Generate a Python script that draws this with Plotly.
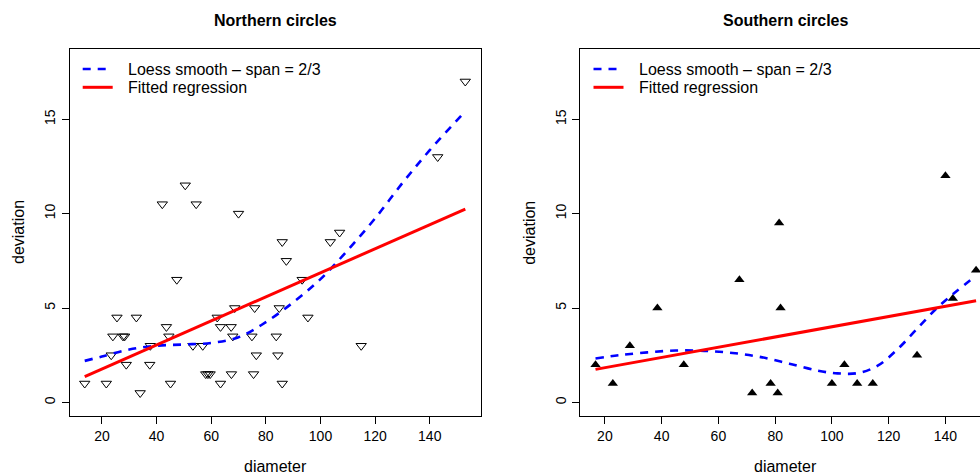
import plotly.graph_objects as go

# ---- data -------------------------------------------------------------
north_diameter = [13.7, 21.6, 23.4, 24.0, 25.5, 27.7, 28.3, 28.9, 32.6, 34.0,
                  37.5, 37.7, 42.1, 43.6, 44.5, 45.1, 47.4, 50.5, 53.3, 54.5,
                  56.9, 58.0, 58.8, 59.6, 62.2, 63.4, 63.4, 67.3, 67.9, 67.4,
                  68.6, 70.0, 74.9, 75.9, 76.5, 75.5, 83.8, 84.4, 84.9, 86.0,
                  86.0, 87.5, 93.3, 95.4, 103.6, 107.0, 114.9, 142.9, 153.0]
north_deviation = [1, 1, 2.5, 3.5, 4.5, 3.5, 3.5, 2, 4.5, 0.5,
                   2, 3, 10.5, 4, 3.5, 1, 6.5, 11.5, 3, 10.5,
                   3, 1.5, 1.5, 1.5, 4.5, 4, 1, 4, 3.5, 1.5,
                   5, 10, 3.5, 5, 2.5, 1.5, 3.5, 2.5, 5, 1,
                   8.5, 7.5, 6.5, 4.5, 8.5, 9, 3, 13, 17]

south_diameter = [16.7, 22.8, 28.8, 38.5, 47.8, 67.4, 71.9, 78.4, 80.9, 81.4,
                  81.9, 100.0, 104.4, 108.9, 114.4, 130.0, 140.0, 142.6, 150.8]
south_deviation = [2, 1, 3, 5, 2, 6.5, 0.5, 1, 0.5, 9.5,
                   5, 1, 2, 1, 1, 2.5, 12, 5.5, 7]

# loess smooth (span = 2/3), sampled along diameter
north_loess_x = [13.7, 20, 30, 40, 50, 60, 70, 80, 90, 100, 110, 120, 130, 140, 153]
north_loess_y = [2.2, 2.43, 2.8, 3.0, 3.07, 3.15, 3.45, 4.25, 5.3, 6.53, 8.07,
                 9.75, 11.62, 13.36, 15.42]
south_loess_x = [16.7, 25, 35, 45, 55, 65, 75, 85, 95, 102, 109, 116, 123, 130,
                 137, 144, 150.8]
south_loess_y = [2.33, 2.5, 2.65, 2.75, 2.73, 2.62, 2.4, 2.05, 1.68, 1.54, 1.55,
                 1.93, 2.8, 3.9, 5.0, 5.9, 6.72]

# fitted regression lines (end points)
north_fit_x = [13.7, 153.0]
north_fit_y = [1.37, 10.24]
south_fit_x = [16.7, 150.8]
south_fit_y = [1.75, 5.38]

x_ticks = [20, 40, 60, 80, 100, 120, 140]
y_ticks = [0, 5, 10, 15]
y_limits = [0, 18]

panel_titles = ["Northern circles", "Southern circles"]
legend_labels = ["Loess smooth \u2013 span = 2/3", "Fitted regression"]
x_label = "diameter"
y_label = "deviation"

# ---- geometry (pixels) ------------------------------------------------
W, H = 980, 474
FONT = "Liberation Sans, Arial, sans-serif"
left_px = (69.5, 480.5)
panel_w = left_px[1] - left_px[0]
right_px0 = 580.3
top_px, bot_px = 49, 416


def px2x(p):
    return p / W


def px2y(p):
    return 1 - p / H


def r_limits(vals):
    lo, hi = min(vals), max(vals)
    pad = 0.04 * (hi - lo)
    return [lo - pad, hi + pad]


north_xr = r_limits(north_diameter)
south_full = r_limits(south_diameter)
# the right panel runs past the page edge; show the part up to the edge
vis_frac = (W - right_px0) / panel_w
south_xr = [south_full[0], south_full[0] + (south_full[1] - south_full[0]) * vis_frac]
yr = r_limits(y_limits)

BLUE = "#0000ff"
RED = "#ff0000"
DASH = "8px,7px"

fig = go.Figure()

# Northern panel
fig.add_trace(go.Scatter(x=north_diameter, y=north_deviation, mode="markers",
                         marker=dict(symbol="triangle-down-open", size=9,
                                     color="black", line=dict(width=1, color="black")),
                         xaxis="x", yaxis="y", showlegend=False))
fig.add_trace(go.Scatter(x=north_loess_x, y=north_loess_y, mode="lines",
                         line=dict(color=BLUE, width=2.6, dash=DASH, shape="spline"),
                         xaxis="x", yaxis="y", showlegend=False))
fig.add_trace(go.Scatter(x=north_fit_x, y=north_fit_y, mode="lines",
                         line=dict(color=RED, width=3),
                         xaxis="x", yaxis="y", showlegend=False))

# Southern panel
fig.add_trace(go.Scatter(x=south_diameter, y=south_deviation, mode="markers",
                         marker=dict(symbol="triangle-up", size=9, color="black",
                                     line=dict(width=0)),
                         xaxis="x2", yaxis="y2", showlegend=False))
fig.add_trace(go.Scatter(x=south_loess_x, y=south_loess_y, mode="lines",
                         line=dict(color=BLUE, width=2.6, dash=DASH, shape="spline"),
                         xaxis="x2", yaxis="y2", showlegend=False))
fig.add_trace(go.Scatter(x=south_fit_x, y=south_fit_y, mode="lines",
                         line=dict(color=RED, width=3),
                         xaxis="x2", yaxis="y2", showlegend=False))

axis_common = dict(showgrid=False, zeroline=False, showline=True, linecolor="black",
                   linewidth=1, ticks="outside", ticklen=7, tickcolor="black",
                   tickwidth=1, tickfont=dict(family=FONT, size=14, color="black"))

ydom = [px2y(bot_px), px2y(top_px)]
fig.update_layout(
    width=W, height=H,
    margin=dict(l=0, r=0, t=0, b=0),
    paper_bgcolor="white", plot_bgcolor="white",
    font=dict(family=FONT, color="black"),
    xaxis=dict(domain=[px2x(left_px[0]), px2x(left_px[1])], range=north_xr,
               tickvals=x_ticks, mirror=True, anchor="y", **axis_common),
    yaxis=dict(domain=ydom, range=yr, tickvals=y_ticks, tickangle=-90,
               ticklabelstandoff=1, mirror=True, anchor="x", **axis_common),
    xaxis2=dict(domain=[px2x(right_px0), 1], range=south_xr, tickvals=x_ticks,
                mirror=True, anchor="y2", **axis_common),
    yaxis2=dict(domain=ydom, range=yr, tickvals=y_ticks, tickangle=-90,
                ticklabelstandoff=1, mirror=False, anchor="x2", **axis_common),
)

annotations = []
shapes = []
panel_lefts = [left_px[0], right_px0]
for i, x0 in enumerate(panel_lefts):
    center = x0 + panel_w / 2
    annotations.append(dict(text="<b>%s</b>" % panel_titles[i], x=px2x(center), y=px2y(20),
                            xref="paper", yref="paper", showarrow=False,
                            xanchor="center", yanchor="middle",
                            font=dict(family=FONT, size=16, color="black")))
    annotations.append(dict(text=x_label, x=px2x(center), y=px2y(466),
                            xref="paper", yref="paper", showarrow=False,
                            xanchor="center", yanchor="middle",
                            font=dict(family=FONT, size=16, color="black")))
    annotations.append(dict(text=y_label, x=px2x(x0 - 51), y=px2y((top_px + bot_px) / 2),
                            xref="paper", yref="paper", showarrow=False, textangle=-90,
                            xanchor="center", yanchor="middle",
                            font=dict(family=FONT, size=16, color="black")))
    # legend
    off = x0 - left_px[0]
    for j, (lab, col, dash) in enumerate([(legend_labels[0], BLUE, DASH),
                                          (legend_labels[1], RED, "solid")]):
        ypx = 69 + j * 18.3
        shapes.append(dict(type="line", xref="paper", yref="paper",
                           x0=px2x(82.7 + off), x1=px2x(112.7 + off),
                           y0=px2y(ypx), y1=px2y(ypx),
                           line=dict(color=col, width=3 if j else 2.6, dash=dash)))
        annotations.append(dict(text=lab, x=px2x(126 + off), y=px2y(ypx),
                                xref="paper", yref="paper", showarrow=False,
                                xanchor="left", yanchor="middle",
                                font=dict(family=FONT, size=16, color="black")))

fig.update_layout(annotations=annotations, shapes=shapes)
fig.write_html("out.html")
